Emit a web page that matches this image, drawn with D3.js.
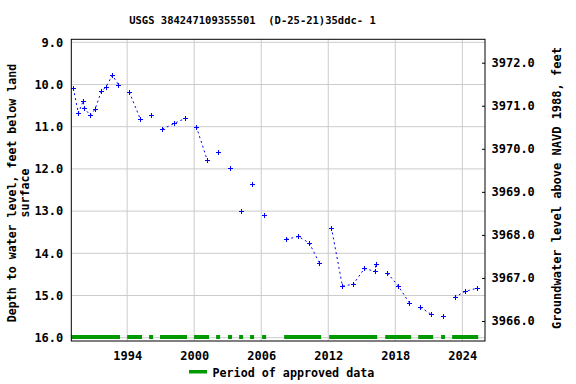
<!DOCTYPE html>
<html>
<head>
<meta charset="utf-8">
<script src="https://cdn.jsdelivr.net/npm/d3@7"></script>
<style>
  html, body { margin: 0; padding: 0; background: #fff; }
  svg { display: block; }
  text { font-family: "DejaVu Sans Mono", monospace; font-weight: bold; fill: #000; }
</style>
</head>
<body>
<script>
// ---- data ----
const title = "USGS 384247109355501  (D-25-21)35ddc- 1";
const dates = [1989.18,1989.63,1990.07,1990.16,1990.70,1991.12,1991.69,1992.13,1992.67,1993.21,
  1994.19,1995.18,1996.16,1997.15,1998.22,1999.21,2000.19,2001.18,2002.16,2003.24,2004.22,2005.21,2006.28,
  2008.25,2009.33,2010.31,2011.21,2012.28,2013.27,2014.25,2015.24,2016.20,2016.24,
  2017.30,2018.28,2019.27,2020.25,2021.24,2022.31,2023.30,2024.28,2025.27];
const depths = [10.09,10.68,10.39,10.56,10.73,10.59,10.16,10.05,9.78,10.00,
  10.18,10.82,10.73,11.06,10.92,10.80,11.00,11.80,11.61,11.99,13.00,12.36,13.10,
  13.67,13.60,13.76,14.23,13.39,14.78,14.73,14.36,14.43,14.25,
  14.47,14.78,15.18,15.28,15.45,15.49,15.04,14.90,14.83];
const approvedStart = [1989.0,1994.0,1995.96,1996.94,1999.99,2001.96,2003.03,2004.02,2005.0,2006.08,2008.05,2012.08,2017.1,2020.05,2022.1,2023.09];
const approvedEnd   = [1993.36,1995.33,1996.32,1999.36,2001.33,2002.32,2003.39,2004.38,2005.36,2006.44,2011.36,2016.38,2019.42,2021.39,2022.46,2025.42];
const xTicks = [1994, 2000, 2006, 2012, 2018, 2024];
const yTicks = [9, 10, 11, 12, 13, 14, 15, 16];
const elevTicks = [3972, 3971, 3970, 3969, 3968, 3967, 3966];

// ---- layout ----
const W = 576, H = 384;
const L = 71.3, R = 485, T = 39.3, B = 341;

const svg = d3.select("body").append("svg").attr("width", W).attr("height", H);

const x = d3.scaleLinear().domain([1989.0, 2026.03]).range([L, R]);
const y = d3.scaleLinear().domain([9, 16]).range([42.3, 337.7]);
const yR = d3.scaleLinear().domain([3972, 3966]).range([62.7, 321]);

// grid
const grid = svg.append("g").attr("stroke", "#cccccc").attr("stroke-width", 1);
grid.selectAll("line.h").data(yTicks).join("line")
  .attr("x1", L).attr("x2", R).attr("y1", d => y(d)).attr("y2", d => y(d));
grid.selectAll("line.v").data(xTicks).join("line")
  .attr("y1", T).attr("y2", B).attr("x1", d => x(d)).attr("x2", d => x(d));

// approved periods
svg.append("g").selectAll("rect").data(approvedStart).join("rect")
  .attr("x", (d) => x(d))
  .attr("width", (d, i) => x(approvedEnd[i]) - x(d))
  .attr("y", 335).attr("height", 4)
  .attr("fill", "#009900");

// data line, connected within approved periods
const pts = dates.map((d, i) => ({ t: d, v: depths[i],
  p: approvedStart.findIndex((s, k) => d >= s && d <= approvedEnd[k]) }));
const groups = d3.groups(pts, d => d.p);
const line = d3.line().x(d => x(d.t)).y(d => y(d.v));
svg.append("g").selectAll("path").data(groups.filter(g => g[1].length > 1)).join("path")
  .attr("d", g => line(g[1]))
  .attr("fill", "none").attr("stroke", "#0000ff").attr("stroke-width", 1)
  .attr("stroke-dasharray", "2,3");

// markers
const mk = svg.append("g").attr("stroke", "#0000ff").attr("stroke-width", 1);
mk.selectAll("path").data(pts).join("path")
  .attr("d", d => {
    const cx = Math.round(x(d.t)) + 0.5, cy = Math.round(y(d.v)) + 0.5;
    return `M${cx-2.5},${cy}H${cx+2.5}M${cx},${cy-2.5}V${cy+2.5}`;
  });

// frame
svg.append("rect").attr("x", L).attr("y", T).attr("width", R - L).attr("height", B - T)
  .attr("fill", "none").attr("stroke", "#000").attr("stroke-width", 1);

// left axis
const axL = d3.axisLeft(y).tickValues(yTicks).tickSize(0).tickPadding(8).tickFormat(d3.format(".1f"));
const gL = svg.append("g").attr("transform", `translate(${L},0)`).call(axL);
gL.select(".domain").remove();
gL.selectAll("text").attr("font-size", 12).attr("x", 63.3 - L).style("font-family", "DejaVu Sans Mono").style("font-weight", "bold");

// right axis
const axR = d3.axisRight(yR).tickValues(elevTicks).tickSizeInner(-3).tickSizeOuter(0).tickPadding(9).tickFormat(d3.format(".1f"));
const gR = svg.append("g").attr("transform", `translate(${R},0)`).call(axR);
gR.select(".domain").remove();
gR.selectAll("line").attr("stroke", "#000");
gR.selectAll("text").attr("font-size", 12).attr("x", 6.5).style("font-family", "DejaVu Sans Mono").style("font-weight", "bold");

// bottom axis
const axB = d3.axisBottom(x).tickValues(xTicks).tickSize(0).tickPadding(10).tickFormat(d3.format("d"));
const gB = svg.append("g").attr("transform", `translate(0,${B})`).call(axB);
gB.select(".domain").remove();
gB.selectAll("text").attr("font-size", 12).style("font-family", "DejaVu Sans Mono").style("font-weight", "bold");

// title
svg.append("text").attr("x", 252.5).attr("y", 24).attr("text-anchor", "middle")
  .attr("font-size", 10.5).attr("xml:space", "preserve").style("white-space", "pre").text(title);

// axis titles
svg.append("text").attr("transform", "translate(16,193) rotate(-90)").attr("text-anchor", "middle")
  .attr("font-size", 11.6).text("Depth to water level, feet below land");
svg.append("text").attr("transform", "translate(29,193) rotate(-90)").attr("text-anchor", "middle")
  .attr("font-size", 11.6).text("surface");
svg.append("text").attr("transform", "translate(561,188) rotate(-90)").attr("text-anchor", "middle")
  .attr("font-size", 12).text("Groundwater level above NAVD 1988, feet");

// legend
svg.append("rect").attr("x", 189).attr("y", 370).attr("width", 18).attr("height", 3.5).attr("fill", "#009900");
svg.append("text").attr("x", 212.5).attr("y", 376.5).attr("font-size", 11.7).text("Period of approved data");
</script>
</body>
</html>
